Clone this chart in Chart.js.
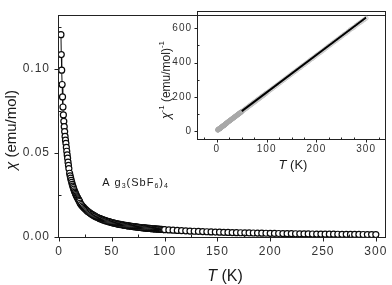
<!DOCTYPE html>
<html><head><meta charset="utf-8">
<script src="https://cdn.jsdelivr.net/npm/chart.js@4.4.1/dist/chart.umd.min.js"></script>
<style>
html,body{margin:0;padding:0;background:#fff;}
#wrap{position:relative;width:392px;height:285px;overflow:hidden;}
#main{position:absolute;left:0;top:0;}
#inset{position:absolute;left:150px;top:0;}
</style></head><body>
<div id="wrap">
<canvas id="main" width="392" height="285"></canvas>
<canvas id="inset" width="242" height="180"></canvas>
</div>
<script>
// ---- data ----
const tempK = [
1.8,2.1,2.5,2.9,3.3,3.7,4.1,4.5,4.9,5.3,5.7,6.1,6.5,6.9,7.3,7.7,8.1,8.5,8.9,9.3,
10,10.5,11,11.5,12,12.5,13,13.5,14,14.5,15,15.5,16,16.5,17,17.5,18,18.5,19,19.5,
20,21,22,23,24,25,26,27,28,29,30,31,32,33,34,35,36,37,38,39,
40,41,42,43,44,45,46,47,48,49,50,51,52,53,54,55,56,57,58,59,
60,61,62,63,64,65,66,67,68,69,70,71,72,73,74,75,76,77,78,79,
80,81,82,83,84,85,86,87,88,89,90,91,92,93,94,95,96,97,98,99,100,
104,108,112,116,120,124,128,132,136,140,144,148,152,156,160,164,168,172,176,180,
184,188,192,196,200,204,208,212,216,220,224,228,232,236,240,244,248,252,256,260,
264,268,272,276,280,284,288,292,296,300];
const chi = [
0.1204,0.1086,0.0993,0.0908,0.0834,0.0774,0.0727,0.0689,0.0657,0.0628,0.0599,0.0577,0.0558,0.0534,0.0511,0.0489,0.0470,0.0446,0.0427,0.0408,
0.0380,0.0365,0.0351,0.0338,0.0326,0.0314,0.0304,0.0294,0.0285,0.0276,0.0268,0.0260,0.0253,0.0246,0.0240,0.0234,0.0228,0.0222,0.0217,0.0212,
0.02016,0.01931,0.01853,0.01781,0.01715,0.01653,0.01595,0.01542,0.01492,0.01445,
0.01401,0.01359,0.01320,0.01283,0.01248,0.01215,0.01184,0.01154,0.01126,0.01099,
0.01073,0.01048,0.01025,0.01003,0.00981,0.00961,0.00941,0.00922,0.00904,0.00886,
0.00870,0.00853,0.00838,0.00823,0.00808,0.00794,0.00781,0.00768,0.00755,0.00743,
0.00731,0.00720,0.00708,0.00698,0.00687,0.00677,0.00667,0.00658,0.00648,0.00639,
0.00631,0.00622,0.00614,0.00606,0.00598,0.00590,0.00582,0.00575,0.00568,0.00561,
0.00554,0.00548,0.00541,0.00535,0.00529,0.00523,0.00517,0.00511,0.00505,0.00500,
0.00495,0.00489,0.00484,0.00479,0.00474,0.00469,0.00465,0.00460,0.00455,0.00451,
0.00446,
0.00430,0.00414,0.00400,0.00386,0.00374,0.00362,0.00351,0.00340,0.00331,0.00321,
0.00313,0.00304,0.00296,0.00289,0.00282,0.00275,0.00269,0.00262,0.00257,0.00251,
0.00246,0.00240,0.00236,0.00231,0.00226,0.00222,0.00218,0.00214,0.00210,0.00206,
0.00202,0.00199,0.00195,0.00192,0.00189,0.00186,0.00183,0.00180,0.00177,0.00175,
0.00172,0.00169,0.00167,0.00165,0.00162,0.00160,0.00158,0.00156,0.00154,0.00152];
const fitT = [50, 300];
const fitInvChi = [118, 662];
const mainXTicks = [0,50,100,150,200,250,300];
const mainXMinor = [25,75,125,175,225,275];
const mainYTicks = [0,0.05,0.10];
const mainYMinor = [0.025,0.075,0.125];
const insetXTicks = [0,100,200,300];
const insetXMinor = [-25,25,50,75,125,150,175,225,250,275,325];
const insetYTicks = [0,200,400,600];
const insetYMinor = [100,300,500];
const splitT = 50;

// ---- helpers ----
const FAM = "'Liberation Sans', Arial, sans-serif";
function drawRuns(ctx, runs, x, y, angle) {
  ctx.save();
  ctx.translate(x, y); ctx.rotate(angle || 0);
  let total = 0;
  runs.forEach(r => { ctx.font = r.font; ctx.letterSpacing = (r.ls || 0) + 'px'; r.w = ctx.measureText(r.t).width; total += r.w; });
  let cx = -total / 2;
  ctx.textBaseline = 'middle'; ctx.textAlign = 'left'; ctx.fillStyle = '#1a1a1a';
  runs.forEach(r => { ctx.font = r.font; ctx.letterSpacing = (r.ls || 0) + 'px'; ctx.fillText(r.t, cx, r.dy || 0); cx += r.w; });
  ctx.restore();
}
const axesPlugin = {
  id: 'axesDeco',
  beforeDraw(chart) { chart.ctx.letterSpacing = '1px'; },
  afterDraw(chart) {
    const o = chart.options.plugins.axesDeco;
    const ctx = chart.ctx, a = chart.chartArea, xs = chart.scales.x, ys = chart.scales.y;
    ctx.save();
    ctx.letterSpacing = '0px';
    ctx.strokeStyle = '#222'; ctx.lineWidth = 1;
    const L = Math.round(a.left) + 0.5, R = Math.round(a.right) - 0.5, T = Math.round(a.top) + 0.5, B = Math.round(a.bottom) - 0.5;
    ctx.strokeRect(L, T, R - L, B - T);
    ctx.beginPath();
    o.xMajor.forEach(v => { const p = Math.round(xs.getPixelForValue(v)) + 0.5; ctx.moveTo(p, B); ctx.lineTo(p, B + o.maj); });
    o.xMinor.forEach(v => { const p = Math.round(xs.getPixelForValue(v)) + 0.5; if (p > L && p < R) { ctx.moveTo(p, B); ctx.lineTo(p, B - o.min); } });
    o.yMajor.forEach(v => { const p = Math.round(ys.getPixelForValue(v)) + 0.5; ctx.moveTo(L, p); ctx.lineTo(L - o.maj, p); });
    o.yMinor.forEach(v => { const p = Math.round(ys.getPixelForValue(v)) + 0.5; if (p > T && p < B) { ctx.moveTo(L, p); ctx.lineTo(L + o.min, p); } });
    ctx.stroke();
    ctx.restore();
    o.texts.forEach(t => drawRuns(ctx, t.runs, t.x, t.y, t.angle));
  }
};

const mainPts = tempK.map((t, i) => ({x: t, y: chi[i]}));
const insetLow = [], insetHigh = [];
tempK.forEach((t, i) => { (t < splitT ? insetLow : insetHigh).push({x: t, y: 1 / chi[i]}); });
const fitPts = fitT.map((t, i) => ({x: t, y: fitInvChi[i]}));

const tickFont = (s) => ({family: FAM, size: s});
function fixTicks(arr) { return s => { s.ticks = arr.map(v => ({value: v})); }; }

new Chart(document.getElementById('main'), {
  type: 'scatter',
  data: { datasets: [{
    data: mainPts, showLine: true, borderColor: '#111', borderWidth: 1,
    pointRadius: 3, pointBorderWidth: 1.2, pointBorderColor: '#0a0a0a', pointBackgroundColor: '#fff'
  }]},
  options: {
    responsive: false, animation: false, devicePixelRatio: 1,
    layout: { padding: {left: 0, right: 3, top: 2, bottom: 0} },
    plugins: {
      legend: {display: false}, tooltip: {enabled: false},
      axesDeco: {
        xMajor: mainXTicks, xMinor: mainXMinor, yMajor: mainYTicks, yMinor: mainYMinor, maj: 4, min: 3,
        texts: [
          {x: 12, y: 130, angle: -Math.PI/2, runs: [{t: 'χ', font: 'italic 15px ' + FAM}, {t: ' (emu/mol)', font: '15px ' + FAM}]},
          {x: 225, y: 277, runs: [{t: 'T', font: 'italic 16px ' + FAM}, {t: ' (K)', font: '16px ' + FAM}]},
          {x: 135, y: 183, runs: [
            {t: 'A g', font: '11px ' + FAM, ls: 1},
            {t: '3', font: '7px ' + FAM, dy: 3, ls: 1},
            {t: '(SbF', font: '11px ' + FAM, ls: 1},
            {t: '6', font: '7px ' + FAM, dy: 3, ls: 1},
            {t: ')', font: '11px ' + FAM, ls: 1},
            {t: '4', font: '7px ' + FAM, dy: 3}]}
        ]
      }
    },
    scales: {
      x: { type: 'linear', min: -1, max: 310, afterFit: s => { s.height = 47; }, afterBuildTicks: fixTicks(mainXTicks),
        grid: {display: false, drawTicks: false}, border: {display: false},
        ticks: {padding: 6, font: tickFont(12), color: '#333', maxRotation: 0, autoSkip: false} },
      y: { min: -0.0005, max: 0.132, afterFit: s => { s.width = 58; }, afterBuildTicks: fixTicks(mainYTicks),
        grid: {display: false, drawTicks: false}, border: {display: false},
        ticks: {padding: 8, font: tickFont(12), color: '#333', autoSkip: false, callback: v => v.toFixed(2)} }
    }
  },
  plugins: [axesPlugin]
});

new Chart(document.getElementById('inset'), {
  type: 'scatter',
  data: { datasets: [
    { data: fitPts, showLine: true, borderColor: '#000', borderWidth: 2, pointRadius: 0, order: 0 },
    { data: insetHigh, showLine: false, pointRadius: 2, pointBorderWidth: 1, pointBorderColor: '#c4c4c4', pointBackgroundColor: 'rgba(255,255,255,0)', order: 2 },
    { data: insetLow, showLine: false, pointRadius: 2.2, pointBorderWidth: 1, pointBorderColor: '#a8a8a8', pointBackgroundColor: '#b0b0b0', order: 1 }
  ]},
  options: {
    responsive: false, animation: false, devicePixelRatio: 1,
    layout: { padding: {left: 0, right: 6, top: 7, bottom: 0} },
    plugins: {
      legend: {display: false}, tooltip: {enabled: false},
      axesDeco: {
        xMajor: insetXTicks, xMinor: insetXMinor, yMajor: insetYTicks, yMinor: insetYMinor, maj: 3, min: 2,
        texts: [
          {x: 17, y: 80, angle: -Math.PI/2, runs: [
            {t: 'χ', font: 'italic 12px ' + FAM},
            {t: '-1', font: '8px ' + FAM, dy: -5},
            {t: ' (emu/mol)', font: '12px ' + FAM},
            {t: '-1', font: '8px ' + FAM, dy: -5}]},
          {x: 143, y: 165, runs: [{t: 'T', font: 'italic 13px ' + FAM}, {t: ' (K)', font: '13px ' + FAM}]}
        ]
      }
    },
    scales: {
      x: { type: 'linear', min: -40, max: 340, afterFit: s => { s.height = 40; }, afterBuildTicks: fixTicks(insetXTicks),
        grid: {display: false, drawTicks: false}, border: {display: false},
        ticks: {padding: 3, font: tickFont(10), color: '#333', maxRotation: 0, autoSkip: false} },
      y: { min: -50, max: 700, afterFit: s => { s.width = 47; }, afterBuildTicks: fixTicks(insetYTicks),
        grid: {display: false, drawTicks: false}, border: {display: false},
        ticks: {padding: 5, font: tickFont(10), color: '#333', autoSkip: false} }
    }
  },
  plugins: [axesPlugin]
});
</script>
</body></html>
